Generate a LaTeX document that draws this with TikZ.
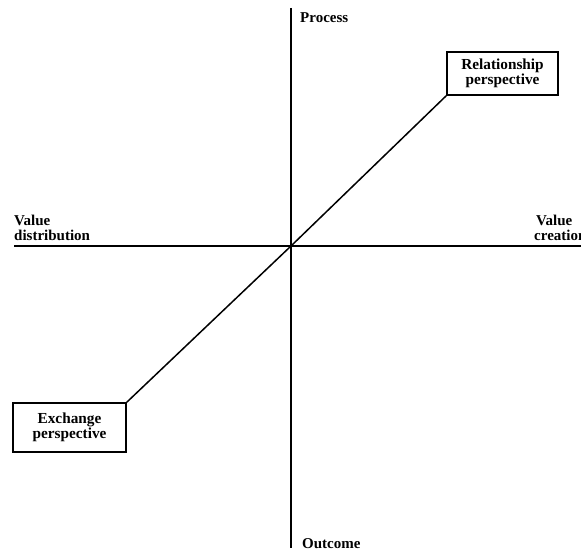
\documentclass[tikz,border=0pt]{standalone}
\usepackage{fontspec}
\setmainfont{Liberation Serif}
\begin{document}
\begin{tikzpicture}[x=1pt,y=-1pt,
  lbl/.style={font=\bfseries\fontsize{15}{15.5}\selectfont, inner sep=0pt, align=left},
  persp/.style={draw, line width=1.6pt, font=\bfseries\fontsize{15.3}{15.5}\selectfont, align=center, inner sep=0pt},
  axis/.style={line width=1.6pt},
  link/.style={line width=1.5pt}]
  \useasboundingbox (0,0) rectangle (581,553);
  % axes
  \coordinate (o) at (291,246);
  \coordinate (xl) at (14,246);
  \coordinate (xr) at (590,246);
  \coordinate (yt) at (291,8);
  \coordinate (yb) at (291,548);
  \draw[axis] (xl) -- (xr);
  \draw[axis] (yt) -- (yb);
  % axis labels
  \node[lbl, anchor=base west] (proc) at (300,23) {Process};
  \node[lbl, anchor=base west] (outc) at (302,548) {Outcome};
  \node[lbl, anchor=south west] (vdist) at (14,241) {Value\\distribution};
  \node[lbl, anchor=south west] (vcre) at (534,241) {\hspace*{2pt}Value\\creation};
  % perspectives
  \node[persp, minimum width=111pt, minimum height=43pt] (rel) at (502.5,73.5) {Relationship\\perspective};
  \node[persp, minimum width=113pt, minimum height=49pt] (exch) at (69.5,427.5) {Exchange\\perspective};
  \draw[link] (exch.north east) -- (o) -- (rel.south west);
\end{tikzpicture}
\end{document}
